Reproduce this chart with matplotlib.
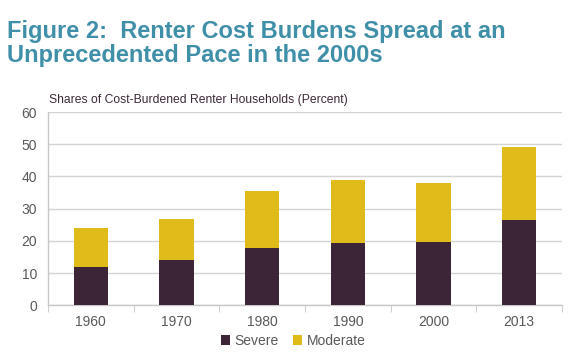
import matplotlib
matplotlib.use("Agg")
import matplotlib.pyplot as plt
import numpy as np

years = ["1960", "1970", "1980", "1990", "2000", "2013"]
severe = [11.8, 14.0, 17.7, 19.4, 19.7, 26.4]
moderate = [12.1, 12.9, 17.8, 19.6, 18.3, 22.7]
yticks = [0, 10, 20, 30, 40, 50, 60]

W, H = 576, 357
fig = plt.figure(figsize=(W / 100, H / 100), dpi=100)
plt.rcParams['font.family'] = ['Liberation Sans', 'DejaVu Sans']

ax = fig.add_axes([48 / W, (H - 305.3) / H, 514 / W, (305.3 - 112) / H])
x = np.arange(len(years))
c_sev = "#3b2536"
c_mod = "#e0bc1a"
ax.bar(x, severe, width=0.4, color=c_sev, label="Severe", zorder=3)
ax.bar(x, moderate, width=0.4, bottom=severe, color=c_mod, label="Moderate", zorder=3)

ax.set_xlim(-0.5, len(years) - 0.5)
ax.set_ylim(0, 60)
ax.set_yticks(yticks)
ax.set_yticklabels([str(v) for v in yticks], fontsize=10, color="#595959")
ax.set_xticks(x)
ax.set_xticklabels(years, fontsize=10, color="#595959")
ax.set_xticks(np.arange(-0.5, len(years), 1.0), minor=True)
ax.tick_params(axis="x", which="major", length=0, pad=7)
ax.tick_params(axis="x", which="minor", length=5, color="#c8c8c8", direction="out")
ax.tick_params(axis="y", length=0, pad=8)
ax.grid(axis="y", color="#d4d4d4", linewidth=1, zorder=0)
for s in ["top", "right"]:
    ax.spines[s].set_visible(False)
for s in ["left", "bottom"]:
    ax.spines[s].set_color("#c8c8c8")
    ax.spines[s].set_linewidth(1)

fig.text(7 / W, 1 - 20 / H,
         "Figure 2:  Renter Cost Burdens Spread at an\nUnprecedented Pace in the 2000s",
         fontsize=17, fontweight="bold", color="#3f8fa8", va="top", ha="left",
         linespacing=1.03)
fig.text(49 / W, 1 - 100 / H, "Shares of Cost-Burdened Renter Households (Percent)",
         fontsize=8.7, color="#3d2a3a", va="center", ha="left")

handles, labels = ax.get_legend_handles_labels()
fig.legend(handles, labels, loc="center", bbox_to_anchor=(293 / W, 1 - 341 / H),
           ncol=2, frameon=False, fontsize=10, handlelength=0.7, handleheight=0.7,
           handletextpad=0.3, columnspacing=1.0, labelcolor="#595959")

fig.savefig("out.png", dpi=100)
